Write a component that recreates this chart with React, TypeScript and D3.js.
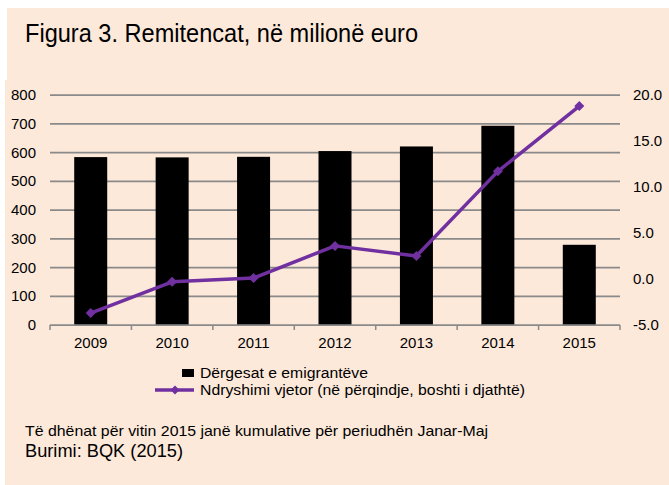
import React from "react";
import * as d3 from "d3";

const years = ["2009", "2010", "2011", "2012", "2013", "2014", "2015"];
const remittances = [584, 583, 585, 605, 621, 693, 279];
const annualChange = [-3.7, -0.3, 0.1, 3.6, 2.5, 11.7, 18.8];
const leftTicks = [0, 100, 200, 300, 400, 500, 600, 700, 800];
const rightTicks = [-5, 0, 5, 10, 15, 20];

const titleText = "Figura 3. Remitencat, në milionë euro";
const legendBars = "Dërgesat e emigrantëve";
const legendLine = "Ndryshimi vjetor (në përqindje, boshti i djathtë)";
const noteText = "Të dhënat për vitin 2015 janë kumulative për periudhën Janar-Maj";
const sourceText = "Burimi: BQK (2015)";

export default function App() {
  const W = 669, H = 485;
  const left = 50, right = 620, top = 95, bottom = 325;
  const font = "'Liberation Sans', Arial, sans-serif";
  const purple = "#7030A0";

  const x = d3.scaleBand<string>().domain(years).range([left, right]).paddingInner(0.6).paddingOuter(0.3);
  const xb = d3.scaleBand<string>().domain(years).range([left, right]);
  const yL = d3.scaleLinear().domain([0, 800]).range([bottom, top]);
  const yR = d3.scaleLinear().domain([-5, 20]).range([bottom, top]);

  const line = d3
    .line<number>()
    .x((_, i) => (xb(years[i]) as number) + xb.bandwidth() / 2)
    .y((d) => yR(d));

  const diamond = (cx: number, cy: number, r: number) =>
    `M${cx},${cy - r}L${cx + r},${cy}L${cx},${cy + r}L${cx - r},${cy}Z`;

  const barW = 33;
  const boundaries = years.map((y) => xb(y) as number).concat([right]);

  return (
    <svg
      width={W}
      height={H}
      style={{ position: "absolute", left: 0, top: 0, display: "block" }}
      fontFamily={font}
    >
      <rect x={0} y={0} width={W} height={H} fill="#ffffff" />
      <rect x={7} y={8} width={W - 7} height={H - 8} fill="#FDE9DA" />
      <rect x={5} y={80} width={W - 5} height={H - 80} fill="#FDE9DA" />

      <text x={25} y={42} fontSize={26} fill="#000" textLength={393} lengthAdjust="spacingAndGlyphs">
        {titleText}
      </text>

      {leftTicks.map((t) => (
        <g key={"g" + t}>
          {t !== 0 && (
            <line x1={left} x2={right} y1={yL(t)} y2={yL(t)} stroke="#8a8a8a" strokeWidth={1.75} />
          )}
          <text x={36} y={yL(t) + 5} fontSize={15} textAnchor="end" fill="#000">
            {t}
          </text>
        </g>
      ))}
      {rightTicks.map((t) => (
        <text key={"r" + t} x={633} y={yR(t) + 5} fontSize={15} fill="#000">
          {t.toFixed(1)}
        </text>
      ))}

      {years.map((yr, i) => (
        <rect
          key={"b" + yr}
          x={(xb(yr) as number) + xb.bandwidth() / 2 - barW / 2}
          y={yL(remittances[i])}
          width={barW}
          height={bottom - yL(remittances[i])}
          fill="#000"
        />
      ))}

      <line x1={left} x2={right} y1={bottom} y2={bottom} stroke="#8a8a8a" strokeWidth={1.75} />
      {boundaries.map((bx, i) => (
        <line key={"t" + i} x1={bx} x2={bx} y1={bottom} y2={bottom + 5} stroke="#8a8a8a" strokeWidth={1.5} />
      ))}
      {years.map((yr) => (
        <text
          key={"x" + yr}
          x={(xb(yr) as number) + xb.bandwidth() / 2}
          y={348}
          fontSize={15}
          textAnchor="middle"
          fill="#000"
        >
          {yr}
        </text>
      ))}

      <path d={line(annualChange) || ""} fill="none" stroke={purple} strokeWidth={3.5} strokeLinejoin="round" />
      {annualChange.map((v, i) => (
        <path
          key={"m" + i}
          d={diamond((xb(years[i]) as number) + xb.bandwidth() / 2, yR(v), 5)}
          fill={purple}
        />
      ))}

      <rect x={182} y={369} width={12} height={8} fill="#000" />
      <text x={200} y={378} fontSize={14} fill="#000" textLength={168} lengthAdjust="spacingAndGlyphs">
        {legendBars}
      </text>
      <line x1={155} x2={194} y1={390} y2={390} stroke={purple} strokeWidth={3.5} />
      <path d={diamond(175, 390, 4.5)} fill={purple} />
      <text x={200} y={395} fontSize={14} fill="#000" textLength={325} lengthAdjust="spacingAndGlyphs">
        {legendLine}
      </text>

      <text x={25} y={436} fontSize={14.5} fill="#000" textLength={463} lengthAdjust="spacingAndGlyphs">
        {noteText}
      </text>
      <text x={25} y={457} fontSize={17.5} fill="#000" textLength={158} lengthAdjust="spacingAndGlyphs">
        {sourceText}
      </text>
    </svg>
  );
}
